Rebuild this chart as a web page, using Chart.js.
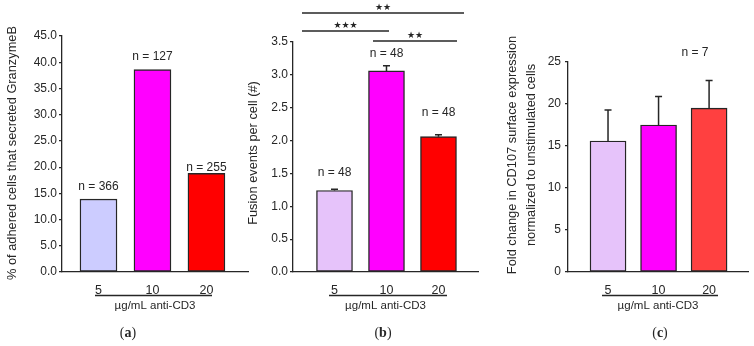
<!DOCTYPE html>
<html>
<head>
<meta charset="utf-8">
<script src="https://cdn.jsdelivr.net/npm/chart.js@4.4.1/dist/chart.umd.min.js"></script>
<style>
  html, body { margin: 0; padding: 0; background: #fff; }
  #wrap { position: relative; width: 754px; height: 346px; overflow: hidden; }
  #wrap canvas { position: absolute; left: 0; top: 0; }
</style>
</head>
<body>
<div id="wrap">
  <canvas id="chartA" width="754" height="346"></canvas>
  <canvas id="chartB" width="754" height="346"></canvas>
  <canvas id="chartC" width="754" height="346"></canvas>
</div>
<script>
// ---- data ----
const doseLabels = ["5", "10", "20"];
const doseTitle = "µg/mL anti-CD3";

const granzymeValues = [13.9, 38.6, 18.8];
const granzymeCounts = ["n = 366", "n = 127", "n = 255"];
const granzymeTicks = [0, 5, 10, 15, 20, 25, 30, 35, 40, 45];

const fusionValues = [1.24, 3.06, 2.06];
const fusionErrors = [0.02, 0.08, 0.03];
const fusionCounts = ["n = 48", "n = 48", "n = 48"];
const fusionTicks = [0, 0.5, 1, 1.5, 2, 2.5, 3, 3.5];
const fusionSigStars = ["★★", "★★★", "★★"];

const cd107Values = [15.6, 17.5, 19.5];
const cd107Errors = [3.7, 3.4, 3.3];
const cd107Count = "n = 7";
const cd107Ticks = [0, 5, 10, 15, 20, 25];

// ---- styling ----
const INK = "#262626";
const SANS = "'Liberation Sans', Arial, sans-serif";
const SERIF = "'Liberation Serif', 'Times New Roman', serif";
const Y_BOX = 40;
const X_BOX = 40;

function drawRotated(ctx, text, cx, cy) {
  ctx.save();
  ctx.translate(cx, cy);
  ctx.rotate(-Math.PI / 2);
  ctx.textAlign = "center";
  ctx.textBaseline = "middle";
  ctx.fillText(text, 0, 0);
  ctx.restore();
}

function drawPanelTag(ctx, letter, cx, cy) {
  ctx.save();
  ctx.textBaseline = "middle";
  ctx.fillStyle = INK;
  const reg = "14px " + SERIF, bold = "bold 14px " + SERIF;
  ctx.font = reg;
  const wp = ctx.measureText("(").width;
  const wq = ctx.measureText(")").width;
  ctx.font = bold;
  const wl = ctx.measureText(letter).width;
  let x = cx - (wp + wl + wq) / 2;
  ctx.textAlign = "left";
  ctx.font = reg; ctx.fillText("(", x, cy); x += wp;
  ctx.font = bold; ctx.fillText(letter, x, cy); x += wl;
  ctx.font = reg; ctx.fillText(")", x, cy);
  ctx.restore();
}

function decorPlugin(p) {
  return {
    id: "decor",
    afterDatasetsDraw(chart) {
      const ctx = chart.ctx;
      const xs = chart.scales.x, ys = chart.scales.y;
      ctx.save();
      ctx.strokeStyle = INK;
      ctx.fillStyle = INK;

      // error bars (upper half only)
      if (p.errors) {
        ctx.lineWidth = 1.5;
        p.values.forEach((v, i) => {
          const px = xs.getPixelForValue(i + 1);
          const y0 = ys.getPixelForValue(v);
          const y1 = ys.getPixelForValue(v + p.errors[i]);
          ctx.beginPath();
          ctx.moveTo(px, y0);
          ctx.lineTo(px, y1);
          ctx.moveTo(px - 3.5, y1);
          ctx.lineTo(px + 3.5, y1);
          ctx.stroke();
        });
      }

      // n = ... labels
      ctx.font = "12px " + SANS;
      ctx.textAlign = "center";
      ctx.textBaseline = "middle";
      if (p.counts) {
        p.counts.forEach((t, i) => {
          const px = xs.getPixelForValue(i + 1);
          const py = ys.getPixelForValue(p.values[i]) - p.countLift[i];
          ctx.fillText(t, px, py);
        });
      }
      if (p.singleCount) {
        ctx.fillText(p.singleCount, p.singleCountPos[0], p.singleCountPos[1]);
      }

      // significance brackets
      if (p.sig) {
        p.sig.forEach((s, k) => {
          ctx.lineWidth = 1.6;
          ctx.beginPath();
          ctx.moveTo(s[0], s[2]);
          ctx.lineTo(s[1], s[2]);
          ctx.stroke();
          ctx.font = "bold 9px 'DejaVu Sans', sans-serif";
          ctx.fillText(p.sigStars[k], (s[0] + s[1]) / 2, s[2] - 5.5);
        });
      }

      // underline below the dose labels + axis caption
      ctx.lineWidth = 1.3;
      ctx.beginPath();
      ctx.moveTo(p.underline[0], p.underline[2]);
      ctx.lineTo(p.underline[1], p.underline[2]);
      ctx.stroke();
      ctx.font = "11.5px " + SANS;
      ctx.textAlign = "center";
      ctx.fillText(doseTitle, (chart.chartArea.left + chart.chartArea.right) / 2, 305.5);

      // y axis title(s)
      ctx.font = "12.8px " + SANS;
      p.yTitle.forEach((t, i) => drawRotated(ctx, t, p.yTitleX[i], p.yTitleY));

      drawPanelTag(ctx, p.tag, p.tagX, 333);
      ctx.restore();
    }
  };
}

function makePanel(p) {
  const a = p.area;
  return new Chart(document.getElementById(p.id), {
    type: "bar",
    data: {
      datasets: [{
        data: p.values.map((v, i) => ({ x: i + 1, y: v })),
        backgroundColor: p.colors,
        borderColor: INK,
        borderWidth: 1.4,
        borderSkipped: false,
        barThickness: p.barWidth,
      }],
    },
    options: {
      responsive: false,
      animation: false,
      events: [],
      layout: {
        padding: {
          left: a.left - Y_BOX,
          right: 754 - a.right,
          top: a.top,
          bottom: 346 - a.bottom - X_BOX,
        },
      },
      plugins: { legend: { display: false }, tooltip: { enabled: false } },
      scales: {
        x: {
          type: "linear",
          offset: false,
          min: p.xRange[0],
          max: p.xRange[1],
          afterBuildTicks: (s) => { s.ticks = doseLabels.map((_, i) => ({ value: i + 1 })); },
          afterFit: (s) => { s.height = X_BOX; },
          ticks: {
            callback: (v) => doseLabels[v - 1],
            color: INK,
            font: { family: SANS, size: 12.5 },
            padding: 3,
            maxRotation: 0,
            autoSkip: false,
          },
          grid: { display: false, offset: false },
          border: { display: true, color: INK, width: 1.3 },
        },
        y: {
          min: 0,
          max: p.ticks[p.ticks.length - 1],
          afterBuildTicks: (s) => { s.ticks = p.ticks.map((v) => ({ value: v })); },
          afterFit: (s) => { s.width = Y_BOX; },
          ticks: {
            callback: (v) => v.toFixed(p.decimals),
            color: INK,
            font: { family: SANS, size: 12 },
            padding: p.tickPad,
          },
          grid: {
            display: true,
            drawOnChartArea: false,
            drawTicks: true,
            tickLength: 3,
            color: INK,
            lineWidth: 1.2,
          },
          border: { display: true, color: INK, width: 1.3 },
        },
      },
    },
    plugins: [decorPlugin(p)],
  });
}

makePanel({
  id: "chartA",
  area: { left: 62, right: 248, top: 36, bottom: 272 },
  xRange: [0.324, 3.77],
  barWidth: 37,
  values: granzymeValues,
  colors: ["#ccccff", "#ff00ff", "#ff0000"],
  ticks: granzymeTicks,
  decimals: 1,
  tickPad: 2,
  counts: granzymeCounts,
  countLift: [12, 13, 6],
  underline: [95, 212, 295.5],
  yTitle: ["% of adhered cells that secreted GranzymeB"],
  yTitleX: [12],
  yTitleY: 153,
  tag: "a",
  tagX: 128,
});

makePanel({
  id: "chartB",
  area: { left: 293, right: 478, top: 42, bottom: 272 },
  xRange: [0.202, 3.76],
  barWidth: 36,
  values: fusionValues,
  errors: fusionErrors,
  colors: ["#e6c3fa", "#ff00ff", "#ff0000"],
  ticks: fusionTicks,
  decimals: 1,
  tickPad: 2,
  counts: fusionCounts,
  countLift: [17.5, 17.5, 24],
  sig: [[302, 464, 13], [302, 389, 31], [373, 457, 41]],
  sigStars: fusionSigStars,
  underline: [329, 447, 295.5],
  yTitle: ["Fusion events per cell (#)"],
  yTitleX: [253],
  yTitleY: 153,
  tag: "b",
  tagX: 383,
});

makePanel({
  id: "chartC",
  area: { left: 568, right: 748, top: 62, bottom: 272 },
  xRange: [0.208, 3.77],
  barWidth: 36,
  values: cd107Values,
  errors: cd107Errors,
  colors: ["#e6c3fa", "#ff00ff", "#ff4040"],
  ticks: cd107Ticks,
  decimals: 0,
  tickPad: 4,
  singleCount: cd107Count,
  singleCountPos: [695, 53],
  underline: [602, 718, 295.5],
  yTitle: ["Fold change in CD107 surface expression", "normalized to unstimulated cells"],
  yTitleX: [512, 531],
  yTitleY: 155,
  tag: "c",
  tagX: 660,
});
</script>
</body>
</html>
